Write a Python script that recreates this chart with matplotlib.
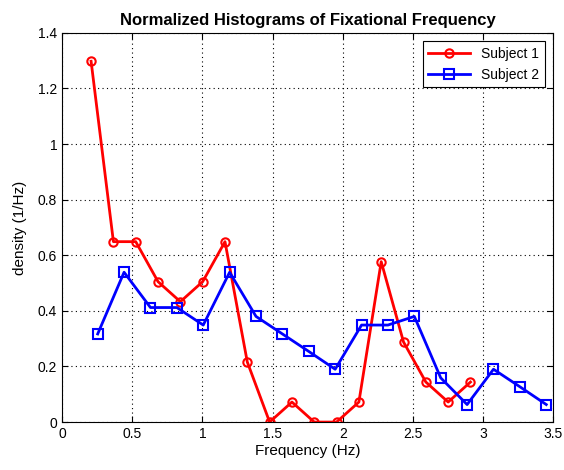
import numpy as np
import matplotlib
matplotlib.use("Agg")
import matplotlib.pyplot as plt

plt.rcParams['font.family'] = ['Liberation Sans', 'DejaVu Sans']

# Subject 1 histogram (bin centres, density)
freq_s1 = [0.207, 0.366, 0.525, 0.684, 0.843, 1.002, 1.161, 1.320, 1.479,
           1.638, 1.797, 1.956, 2.115, 2.274, 2.433, 2.592, 2.751, 2.910]
dens_s1 = [1.298, 0.649, 0.649, 0.505, 0.433, 0.505, 0.649, 0.216, 0.0,
           0.072, 0.0, 0.0, 0.072, 0.577, 0.288, 0.144, 0.072, 0.144]

# Subject 2 histogram
freq_s2 = [0.254, 0.442, 0.630, 0.818, 1.006, 1.194, 1.382, 1.570, 1.758,
           1.946, 2.134, 2.322, 2.510, 2.698, 2.886, 3.074, 3.262, 3.450]
dens_s2 = [0.317, 0.539, 0.412, 0.412, 0.349, 0.539, 0.380, 0.317, 0.254,
           0.190, 0.349, 0.349, 0.380, 0.159, 0.063, 0.190, 0.127, 0.063]

fig = plt.figure(figsize=(5.64, 4.70), dpi=100)
ax = fig.add_axes([0.110, 0.102, 0.871, 0.828])

ax.plot(freq_s1, dens_s1, '-o', color='red', lw=2, ms=6, mfc='none', mew=1.5,
        label='Subject 1')
ax.plot(freq_s2, dens_s2, '-s', color='blue', lw=2, ms=7, mfc='none', mew=1.5,
        label='Subject 2')

ax.set_xlim(0, 3.5)
ax.set_ylim(0, 1.4)
ax.set_xticks(np.arange(0, 3.51, 0.5))
ax.set_xticklabels(['0', '0.5', '1', '1.5', '2', '2.5', '3', '3.5'])
ax.set_yticks(np.arange(0, 1.41, 0.2))
ax.set_yticklabels(['0', '0.2', '0.4', '0.6', '0.8', '1', '1.2', '1.4'])
ax.grid(True, color='black', linestyle=(0, (1, 3)), linewidth=0.8)
ax.tick_params(direction='in', top=True, right=True, labelsize=10, length=4)
for s in ax.spines.values():
    s.set_linewidth(0.8)

ax.set_xlabel('Frequency (Hz)', fontsize=11, labelpad=2)
ax.set_ylabel('density (1/Hz)', fontsize=11, labelpad=8)
ax.set_title('Normalized Histograms of Fixational Frequency', fontsize=12,
             fontweight='bold', pad=6)

leg = ax.legend(loc='upper right', fontsize=10, fancybox=False,
                edgecolor='black', framealpha=1, borderaxespad=0.6,
                handlelength=3)
leg.get_frame().set_linewidth(0.8)

fig.savefig('out.png', dpi=100)
